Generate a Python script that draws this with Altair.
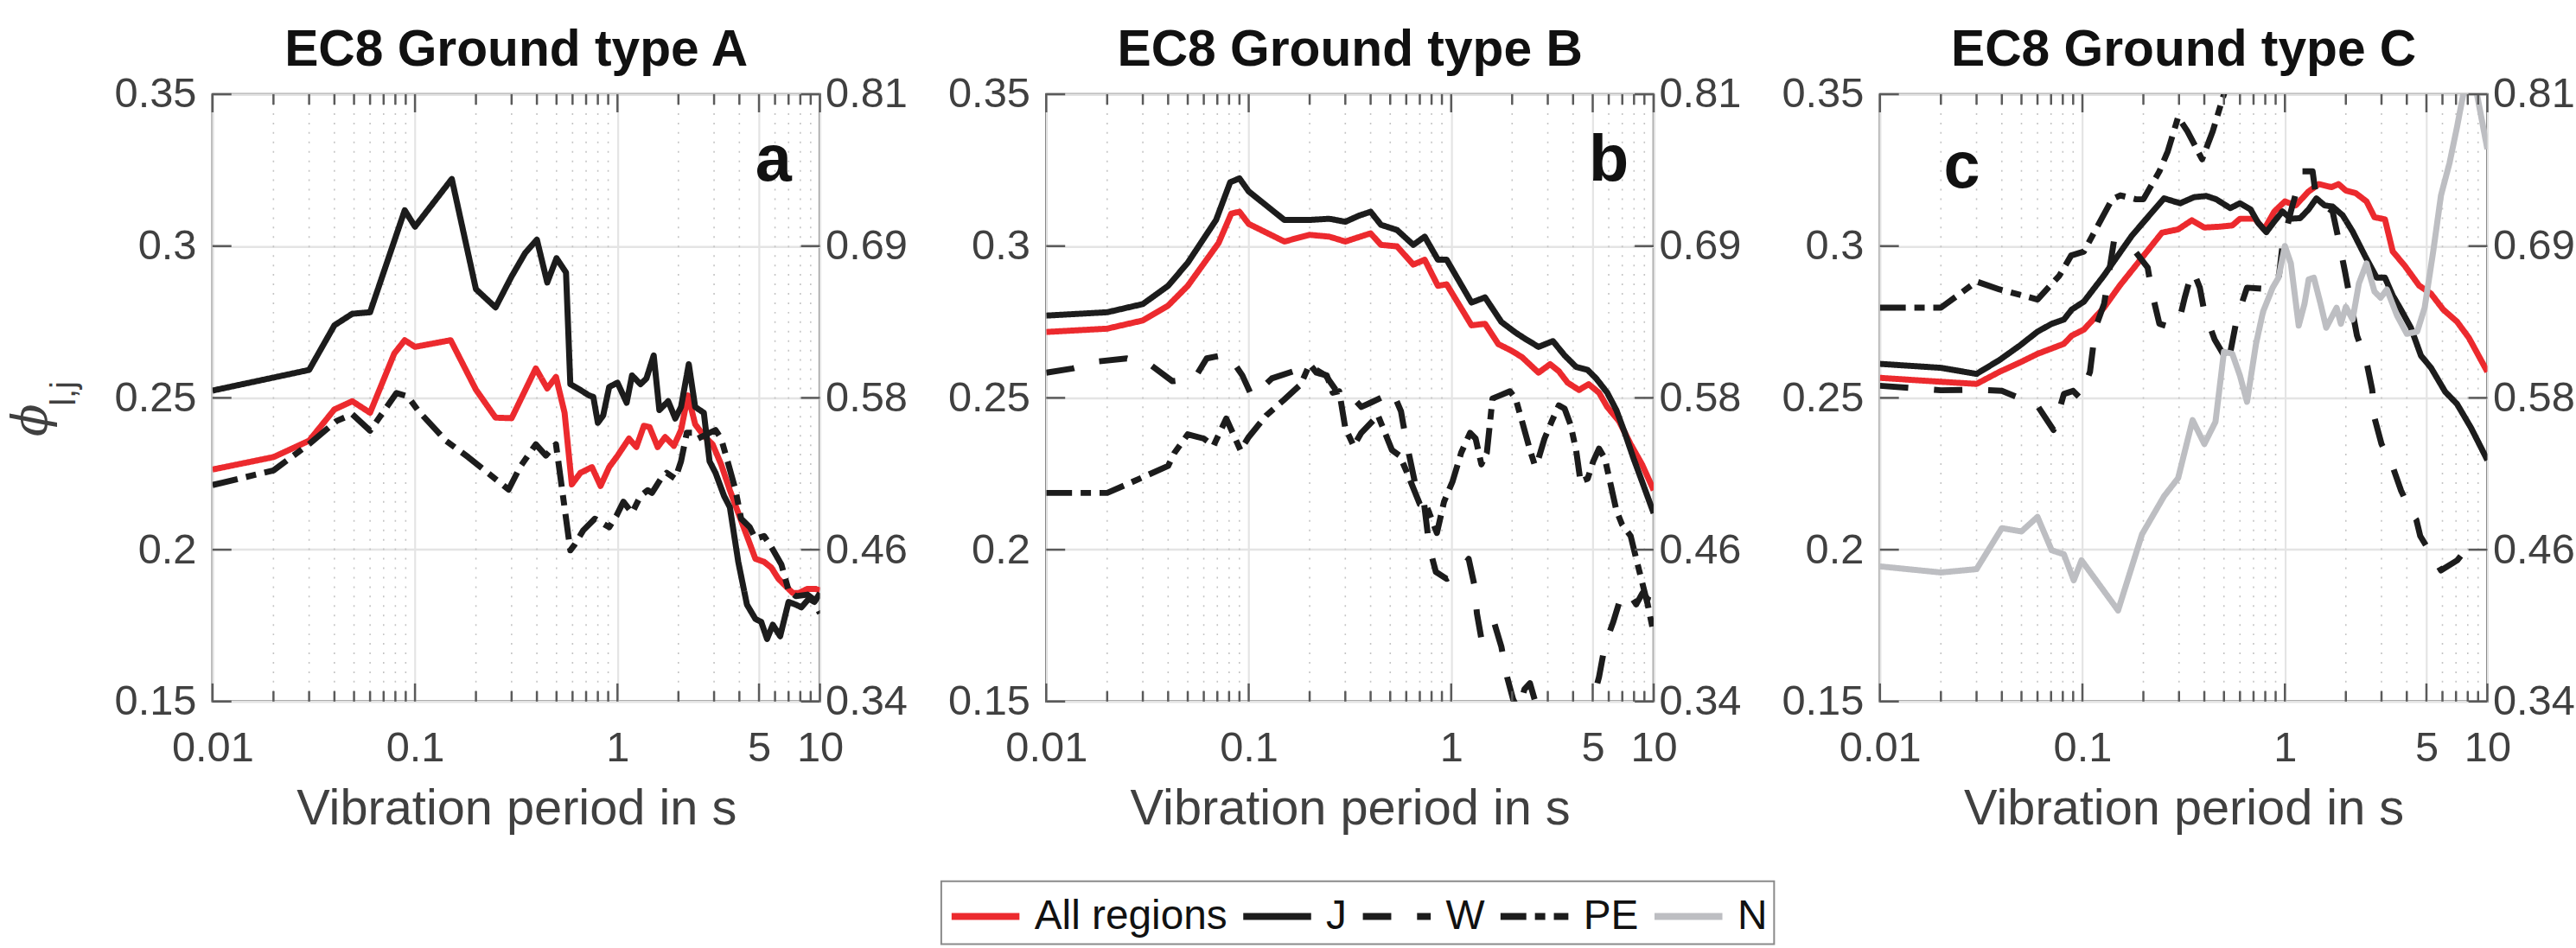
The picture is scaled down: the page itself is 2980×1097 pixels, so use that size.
import altair as alt
import pandas as pd

FONT = "Liberation Sans"
PW = 706
PH = 706
AXC = "#404040"
FRAME = "#5a5a5a"

SERIES = ["All regions", "J", "W", "PE", "N"]
SERIES_COLORS = ["#ec2a2e", "#1c1c1c", "#1c1c1c", "#1c1c1c", "#bdbec2"]
SERIES_DASH = [[1, 0], [1, 0], [33, 30], [30, 10, 12, 10], [1, 0]]

X_DOMAIN = [0.01, 10]
Y_DOMAIN = [0.15, 0.35]
X_TICKS = [0.01, 0.1, 1, 5, 10]
X_MINOR = [0.02, 0.03, 0.04, 0.05, 0.06, 0.07, 0.08, 0.09,
           0.2, 0.3, 0.4, 0.5, 0.6, 0.7, 0.8, 0.9,
           2, 3, 4, 6, 7, 8, 9]
Y_TICKS = [0.15, 0.2, 0.25, 0.3, 0.35]
RIGHT_LABELS = ["0.34", "0.46", "0.58", "0.69", "0.81"]
TITLES = ["EC8 Ground type A", "EC8 Ground type B", "EC8 Ground type C"]
LETTERS = ["a", "b", "c"]
X_TITLE = "Vibration period in s"

# ---------------- panel a (ground type A) ----------------
a_all = [(0.01, 0.2264), (0.02, 0.2305), (0.03, 0.2359), (0.04, 0.2462), (0.049, 0.2489),
         (0.06, 0.2451), (0.079, 0.2646), (0.089, 0.269), (0.1, 0.2668), (0.15, 0.269),
         (0.2, 0.2527), (0.25, 0.2435), (0.3, 0.2433), (0.395, 0.2597), (0.45, 0.2531),
         (0.497, 0.2569), (0.548, 0.2451), (0.595, 0.2215), (0.656, 0.2253), (0.748, 0.2272),
         (0.825, 0.221), (0.91, 0.2272), (1.0, 0.2309), (1.14, 0.2366), (1.24, 0.2338),
         (1.35, 0.2408), (1.44, 0.2404), (1.58, 0.2338), (1.72, 0.2371), (1.9, 0.2342),
         (2.06, 0.2394), (2.23, 0.2508), (2.42, 0.2413), (2.67, 0.2375), (2.95, 0.2347),
         (3.25, 0.2281), (3.59, 0.2196), (3.95, 0.2121), (4.36, 0.2045), (4.8, 0.197),
         (5.3, 0.196), (5.75, 0.1941), (6.24, 0.1904), (6.9, 0.1875), (7.35, 0.1857),
         (7.85, 0.1857), (8.67, 0.1871), (9.5, 0.1871), (10, 0.1866)]
a_j = [(0.01, 0.2524), (0.03, 0.2592), (0.04, 0.2739), (0.049, 0.2777), (0.06, 0.2782),
       (0.089, 0.3118), (0.1, 0.3064), (0.152, 0.3221), (0.2, 0.2858), (0.25, 0.2798),
       (0.3, 0.290), (0.35, 0.2977), (0.4, 0.3021), (0.45, 0.288), (0.5, 0.296),
       (0.557, 0.2913), (0.585, 0.2545), (0.656, 0.2526), (0.724, 0.2508), (0.76, 0.2503),
       (0.8, 0.2418), (0.85, 0.2442), (0.91, 0.2536), (1.0, 0.255), (1.11, 0.2484),
       (1.18, 0.2574), (1.3, 0.2545), (1.39, 0.2564), (1.51, 0.264), (1.61, 0.246),
       (1.78, 0.2489), (1.93, 0.2432), (2.06, 0.247), (2.25, 0.2611), (2.42, 0.247),
       (2.67, 0.2451), (2.85, 0.2291), (3.05, 0.2253), (3.36, 0.2177), (3.59, 0.214),
       (3.95, 0.196), (4.36, 0.1819), (4.8, 0.1772), (5.13, 0.1762), (5.48, 0.1706),
       (5.85, 0.1753), (6.36, 0.1715), (7.0, 0.1828), (7.6, 0.1819), (8.1, 0.181),
       (8.8, 0.1838), (9.4, 0.1828), (10, 0.1857)]
a_pe = [(0.01, 0.2213), (0.02, 0.2261), (0.03, 0.2348), (0.041, 0.2424), (0.049, 0.2446),
        (0.06, 0.2392), (0.072, 0.2467), (0.081, 0.2516), (0.092, 0.2505), (0.104, 0.2457),
        (0.142, 0.2359), (0.183, 0.2305), (0.29, 0.2198), (0.33, 0.2272), (0.395, 0.2347),
        (0.443, 0.231), (0.497, 0.2347), (0.585, 0.1998), (0.615, 0.2017), (0.678, 0.2064),
        (0.773, 0.2102), (0.91, 0.2074), (0.987, 0.2111), (1.07, 0.2158), (1.18, 0.2121),
        (1.3, 0.2177), (1.41, 0.2196), (1.48, 0.2187), (1.64, 0.2234), (1.75, 0.2253),
        (1.93, 0.2234), (2.06, 0.2291), (2.2, 0.2385), (2.34, 0.2385), (2.5, 0.2366),
        (2.85, 0.2385), (3.05, 0.2394), (3.25, 0.2366), (3.47, 0.23), (3.83, 0.2196),
        (4.08, 0.2102), (4.5, 0.2074), (4.8, 0.2036), (5.3, 0.2045), (5.66, 0.2017),
        (6.45, 0.1951), (7.0, 0.1866), (7.6, 0.1847), (8.67, 0.1852), (9.25, 0.1838),
        (10, 0.179)]

# ---------------- panel b (ground type B) ----------------
b_all = [(0.01, 0.2717), (0.02, 0.2728), (0.03, 0.2755), (0.04, 0.2804), (0.05, 0.2869),
         (0.071, 0.301), (0.082, 0.3107), (0.09, 0.3113), (0.1, 0.3073), (0.15, 0.3015),
         (0.2, 0.3037), (0.25, 0.3031), (0.3, 0.3015), (0.4, 0.3042), (0.45, 0.3004),
         (0.54, 0.2999), (0.65, 0.2939), (0.74, 0.2955), (0.86, 0.2869), (0.95, 0.2874),
         (1.26, 0.2739), (1.47, 0.2744), (1.71, 0.2677), (1.95, 0.2658), (2.23, 0.2635),
         (2.7, 0.2583), (3.08, 0.2611), (3.4, 0.2588), (3.76, 0.255), (4.28, 0.2526),
         (4.78, 0.2545), (5.37, 0.2517), (5.9, 0.247), (6.75, 0.2423), (7.7, 0.2347),
         (8.76, 0.2281), (10, 0.2196)]
b_j = [(0.01, 0.2771), (0.02, 0.2782), (0.03, 0.2809), (0.04, 0.2869), (0.05, 0.2945),
       (0.069, 0.3086), (0.081, 0.321), (0.09, 0.3223), (0.1, 0.318), (0.15, 0.3086),
       (0.2, 0.3086), (0.25, 0.309), (0.3, 0.308), (0.35, 0.310), (0.4, 0.3113),
       (0.45, 0.307), (0.54, 0.3053), (0.65, 0.3004), (0.74, 0.3031), (0.86, 0.2955),
       (0.95, 0.2955), (1.26, 0.2814), (1.47, 0.2831), (1.77, 0.275), (2.08, 0.2715),
       (2.3, 0.2696), (2.7, 0.2668), (3.18, 0.2687), (3.63, 0.264), (4.14, 0.2602),
       (4.72, 0.2592), (5.2, 0.2564), (5.9, 0.2517), (6.54, 0.246), (7.2, 0.2385),
       (7.96, 0.23), (8.76, 0.2225), (10, 0.212)]
b_w = [(0.01, 0.2583), (0.0135, 0.2597), (0.018, 0.262), (0.025, 0.263), (0.033, 0.2607),
       (0.042, 0.2555), (0.054, 0.2564), (0.062, 0.263), (0.079, 0.2644), (0.093, 0.2574),
       (0.104, 0.2503), (0.13, 0.2564), (0.2, 0.2605), (0.24, 0.2574), (0.275, 0.2517),
       (0.32, 0.2508), (0.36, 0.247), (0.4, 0.2484), (0.45, 0.25), (0.51, 0.2526),
       (0.565, 0.2456), (0.6, 0.2357), (0.665, 0.2215), (0.73, 0.2168), (0.78, 0.2008),
       (0.84, 0.1927), (0.95, 0.1904), (1.1, 0.1927), (1.22, 0.197), (1.3, 0.1885),
       (1.34, 0.179), (1.41, 0.1706), (1.55, 0.172), (1.63, 0.176), (1.77, 0.168),
       (1.89, 0.158), (2.02, 0.1508), (2.15, 0.147), (2.3, 0.154), (2.45, 0.156),
       (2.6, 0.150), (3.0, 0.14), (4.0, 0.135), (4.6, 0.14), (5.03, 0.1508),
       (5.37, 0.158), (5.75, 0.1687), (6.3, 0.176), (7.0, 0.186), (7.7, 0.1847),
       (8.2, 0.182), (8.8, 0.1857), (9.35, 0.1838), (10, 0.1927)]
b_pe = [(0.01, 0.2187), (0.02, 0.2187), (0.027, 0.2225), (0.04, 0.2276), (0.043, 0.2319),
        (0.05, 0.238), (0.06, 0.2366), (0.067, 0.2342), (0.0775, 0.2432), (0.091, 0.2328),
        (0.1, 0.2371), (0.122, 0.2442), (0.149, 0.2493), (0.181, 0.2545), (0.2, 0.2611),
        (0.216, 0.2583), (0.243, 0.2574), (0.26, 0.2517), (0.28, 0.2522), (0.3, 0.24),
        (0.33, 0.2342), (0.36, 0.2385), (0.435, 0.2442), (0.51, 0.2328), (0.556, 0.231),
        (0.6, 0.226), (0.7, 0.215), (0.76, 0.214), (0.85, 0.2055), (0.922, 0.2158),
        (1.016, 0.2225), (1.12, 0.2319), (1.24, 0.2385), (1.32, 0.2366), (1.41, 0.2281),
        (1.5, 0.2319), (1.6, 0.2498), (1.74, 0.2508), (1.95, 0.2522), (2.08, 0.2498),
        (2.26, 0.2413), (2.45, 0.2328), (2.58, 0.2281), (2.7, 0.23), (2.89, 0.2366),
        (3.14, 0.2423), (3.4, 0.2475), (3.63, 0.2465), (3.88, 0.2413), (4.14, 0.2328),
        (4.35, 0.2225), (4.72, 0.2234), (5.03, 0.2291), (5.37, 0.2333), (5.74, 0.23),
        (6.13, 0.2215), (6.54, 0.213), (6.98, 0.2083), (7.7, 0.2045), (8.2, 0.197),
        (8.76, 0.1894), (9.35, 0.1819), (10, 0.1724)]

# ---------------- panel c (ground type C) ----------------
c_all = [(0.01, 0.2566), (0.02, 0.2553), (0.03, 0.2546), (0.039, 0.2586), (0.05, 0.2619),
         (0.06, 0.2645), (0.081, 0.2678), (0.0886, 0.2705), (0.1017, 0.2725), (0.1277, 0.2797),
         (0.153, 0.287), (0.201, 0.2969), (0.247, 0.3044), (0.297, 0.3055), (0.347, 0.3085),
         (0.4, 0.3061), (0.48, 0.3064), (0.55, 0.3068), (0.6, 0.309), (0.71, 0.309),
         (0.79, 0.3055), (0.887, 0.3114), (1.0, 0.3147), (1.13, 0.3134), (1.31, 0.318),
         (1.47, 0.3204), (1.7, 0.3194), (1.84, 0.3204), (2.0, 0.3183), (2.24, 0.3174),
         (2.53, 0.3147), (2.77, 0.3095), (3.12, 0.3088), (3.41, 0.2982), (3.9, 0.2936),
         (4.6, 0.287), (5.27, 0.2843), (6.05, 0.2791), (7.08, 0.2751), (8.1, 0.2698),
         (10, 0.2586)]
c_j = [(0.01, 0.2612), (0.02, 0.2599), (0.03, 0.2579), (0.039, 0.2625), (0.049, 0.2672),
       (0.06, 0.2718), (0.0705, 0.2744), (0.081, 0.2758), (0.0886, 0.2791), (0.1017, 0.2817),
       (0.1277, 0.2903), (0.1758, 0.3035), (0.253, 0.3157), (0.304, 0.3141), (0.356, 0.3161),
       (0.409, 0.3165), (0.458, 0.3154), (0.537, 0.3125), (0.6, 0.3141), (0.676, 0.3121),
       (0.74, 0.3075), (0.81, 0.3046), (0.887, 0.3081), (0.972, 0.3114), (1.07, 0.309),
       (1.19, 0.3092), (1.31, 0.3121), (1.43, 0.3157), (1.57, 0.3134), (1.72, 0.313),
       (1.93, 0.3101), (2.16, 0.3048), (2.48, 0.2969), (2.84, 0.2896), (3.12, 0.2896),
       (3.41, 0.2837), (3.74, 0.2791), (4.19, 0.2731), (4.7, 0.2639), (5.27, 0.2599),
       (6.19, 0.252), (7.08, 0.248), (8.31, 0.2401), (10, 0.2295)]
c_w = [(0.01, 0.254), (0.02, 0.2525), (0.03, 0.2527), (0.04, 0.2523), (0.05, 0.2497),
       (0.06, 0.2474), (0.072, 0.2394), (0.081, 0.2513), (0.09, 0.2523), (0.0973, 0.25),
       (0.109, 0.2586), (0.116, 0.2731), (0.128, 0.281), (0.143, 0.3015), (0.176, 0.2995),
       (0.21, 0.2929), (0.22, 0.285), (0.24, 0.2744), (0.278, 0.2731), (0.303, 0.2764),
       (0.32, 0.283), (0.35, 0.2923), (0.38, 0.2863), (0.4, 0.2784), (0.45, 0.2692),
       (0.5, 0.264), (0.52, 0.26), (0.58, 0.2764), (0.65, 0.2863), (0.87, 0.2857),
       (0.93, 0.289), (0.97, 0.2995), (1.07, 0.3114), (1.14, 0.318), (1.22, 0.3246),
       (1.37, 0.3246), (1.43, 0.3154), (1.72, 0.3114), (1.84, 0.3022), (1.98, 0.2916),
       (2.27, 0.2705), (2.53, 0.2619), (2.7, 0.2526), (2.77, 0.2434), (3.0, 0.2348),
       (3.4, 0.2275), (3.74, 0.2196), (4.2, 0.2124), (4.46, 0.2098), (4.66, 0.2045),
       (5.37, 0.1978), (5.9, 0.1932), (7.1, 0.1965), (8.5, 0.2031)]
c_pe = [(0.01, 0.2797), (0.02, 0.2797), (0.03, 0.2883), (0.039, 0.2857), (0.051, 0.2837),
        (0.06, 0.2824), (0.077, 0.2903), (0.088, 0.2969), (0.1017, 0.2982), (0.14, 0.3154),
        (0.154, 0.3167), (0.184, 0.3154), (0.2, 0.3154), (0.24, 0.3246), (0.264, 0.3312),
        (0.297, 0.3425), (0.33, 0.3378), (0.39, 0.3286), (0.44, 0.3378), (0.5, 0.35),
        (0.56, 0.362)]
c_n = [(0.01, 0.1945), (0.02, 0.1925), (0.03, 0.1936), (0.04, 0.2071), (0.05, 0.206),
       (0.06, 0.2108), (0.0705, 0.1998), (0.081, 0.1985), (0.0906, 0.1899), (0.099, 0.1965),
       (0.15, 0.18), (0.197, 0.2051), (0.253, 0.2176), (0.297, 0.2236), (0.35, 0.2427),
       (0.4, 0.2348), (0.454, 0.2421), (0.5, 0.2652), (0.55, 0.2645), (0.6, 0.2573),
       (0.65, 0.2487), (0.72, 0.2678), (0.78, 0.2784), (0.87, 0.2863), (0.93, 0.2896),
       (1.0, 0.3), (1.07, 0.2943), (1.17, 0.2738), (1.25, 0.281), (1.31, 0.289),
       (1.39, 0.2896), (1.5, 0.281), (1.6, 0.2731), (1.8, 0.2797), (1.89, 0.2744),
       (2.0, 0.28), (2.16, 0.2758), (2.32, 0.2877), (2.53, 0.2943), (2.77, 0.285),
       (2.97, 0.283), (3.19, 0.2857), (3.58, 0.2771), (4.0, 0.2711), (4.5, 0.2718),
       (4.9, 0.2797), (5.4, 0.2982), (5.9, 0.3167), (6.5, 0.3273), (7.08, 0.3392),
       (7.6, 0.35), (8.3, 0.356), (8.9, 0.3497), (10, 0.3319)]

PANELS = [
    {"All regions": a_all, "J": a_j, "PE": a_pe},
    {"All regions": b_all, "J": b_j, "W": b_w, "PE": b_pe},
    {"All regions": c_all, "J": c_j, "W": c_w, "PE": c_pe, "N": c_n},
]

PAD_L = 7
PAD_T = 25
# legend position is relative to the top-left corner of panel a's plot area
LEG_X = 1092 - 245
LEG_Y = 1022 - 107
SYM = 58            # layout size of a legend symbol
SYM_STRETCH = 1.36  # drawn line is SYM * SYM_STRETCH long

xs = alt.Scale(type="log", domain=X_DOMAIN, nice=False)
ys = alt.Scale(domain=Y_DOMAIN, nice=False, zero=False)


def right_label_expr():
    parts = []
    for v, lab in zip(Y_TICKS[:-1], RIGHT_LABELS[:-1]):
        parts.append(f"datum.value < {v + 0.02} ? '{lab}' : ")
    return "".join(parts) + f"'{RIGHT_LABELS[-1]}'"


extra = SYM * (SYM_STRETCH - 1) / 2
legend = alt.Legend(
    orient="none", legendX=LEG_X, legendY=LEG_Y, direction="horizontal", columns=5,
    title=None, symbolType=f"M-{SYM_STRETCH},0L{SYM_STRETCH},0", symbolSize=SYM * SYM,
    symbolStrokeWidth=8, symbolOffset=extra, labelFont=FONT, labelFontSize=48,
    labelColor="#111111", labelLimit=600, labelOffset=2 * extra + 3, columnPadding=2,
    padding=8, strokeColor="#8a8a8a", fillColor="#ffffff")


def panel(i):
    rows = []
    for s in SERIES:
        for k, (t, v) in enumerate(PANELS[i].get(s, [])):
            rows.append({"series": s, "T": t, "v": v, "o": k})
    df = pd.DataFrame(rows)

    minor_df = pd.DataFrame({"T": X_MINOR})
    major_df = pd.DataFrame({"T": X_TICKS})
    yt_df = pd.DataFrame({"v": Y_TICKS})

    minor_grid = alt.Chart(minor_df).mark_rule(
        color="#c4c4c4", strokeWidth=1.6, strokeDash=[2, 9]
    ).encode(x=alt.X("T:Q", scale=xs, axis=None))

    lines = alt.Chart(df).mark_line(
        clip=True, strokeWidth=7, strokeCap="butt", strokeJoin="round"
    ).encode(
        x=alt.X("T:Q", scale=xs, axis=alt.Axis(
            orient="bottom", values=X_TICKS, format="~g", labelFont=FONT,
            labelFontSize=49, labelColor=AXC, labelPadding=30, labelFlush=False,
            labelOverlap=False, ticks=False, domain=False, grid=True,
            gridColor="#e4e4e4", gridWidth=2.2, title=X_TITLE, titleFont=FONT,
            titleFontSize=58, titleFontWeight="normal", titleColor=AXC,
            titleY=96, titleBaseline="top")),
        y=alt.Y("v:Q", scale=ys, axis=alt.Axis(
            orient="left", values=Y_TICKS, format="~g", labelFont=FONT,
            labelFontSize=49, labelColor=AXC, labelPadding=19, labelOverlap=False,
            ticks=False, domain=False, grid=True, gridColor="#e4e4e4",
            gridWidth=2.5, title=None)),
        color=alt.Color("series:N", scale=alt.Scale(domain=SERIES, range=SERIES_COLORS),
                        legend=legend),
        strokeDash=alt.StrokeDash("series:N", scale=alt.Scale(domain=SERIES, range=SERIES_DASH),
                                  legend=legend),
        order=alt.Order("o:Q"),
    )

    right_axis = alt.Chart(yt_df).mark_point(opacity=0).encode(
        y=alt.Y("v:Q", scale=ys, axis=alt.Axis(
            orient="right", values=Y_TICKS, labelExpr=right_label_expr(),
            labelFont=FONT, labelFontSize=49, labelColor=AXC, labelPadding=6,
            labelOverlap=False, ticks=False, domain=False, grid=False, title=None)))

    def xtick(data, y0, y1):
        return alt.Chart(data).mark_rule(color=FRAME, strokeWidth=2.5).encode(
            x=alt.X("T:Q", scale=xs, axis=None), y=alt.value(y0), y2=alt.value(y1))

    def ytick(x0, x1):
        return alt.Chart(yt_df).mark_rule(color=FRAME, strokeWidth=2.5).encode(
            y=alt.Y("v:Q", scale=ys, axis=None), x=alt.value(x0), x2=alt.value(x1))

    ticks = [
        xtick(major_df, PH, PH - 21), xtick(major_df, 0, 21),
        xtick(minor_df, PH, PH - 12), xtick(minor_df, 0, 12),
        ytick(0, 22), ytick(PW, PW - 22),
    ]

    lx = [673, 677, 74][i]
    ly = [100, 100, 108][i]
    al = ["right", "right", "left"][i]
    letter = alt.Chart(pd.DataFrame({"t": [LETTERS[i]]})).mark_text(
        font=FONT, fontSize=76, fontWeight="bold", align=al, baseline="alphabetic",
        color="#111111").encode(text="t:N", x=alt.value(lx), y=alt.value(ly))

    layers = [minor_grid, lines] + ticks + [right_axis, letter]

    if i == 0:
        phi = alt.Chart(pd.DataFrame({"t": ["ϕ"]})).mark_text(
            font="DejaVu Serif", fontSize=56, fontStyle="italic", angle=270,
            align="center", baseline="alphabetic", color=AXC
        ).encode(text="t:N", x=alt.value(-193), y=alt.value(379))
        sub = alt.Chart(pd.DataFrame({"t": ["l,j"]})).mark_text(
            font=FONT, fontSize=40, angle=270, align="center", baseline="alphabetic",
            color=AXC
        ).encode(text="t:N", x=alt.value(-160), y=alt.value(348))
        layers += [phi, sub]

    return alt.layer(*layers).resolve_axis(x="independent", y="independent").properties(
        width=PW, height=PH,
        title=alt.TitleParams(TITLES[i], font=FONT, fontSize=59, fontWeight="bold",
                              color="#111111", offset=-3, frame="group", anchor="middle"))


chart = alt.hconcat(panel(0), panel(1), panel(2), spacing=44).properties(
    padding={"left": PAD_L, "top": PAD_T, "right": 0, "bottom": 0},
    background="white",
).configure_view(stroke=FRAME, strokeWidth=2.5).configure_legend(strokeWidth=2)

chart.save("out.html", embed_options={"renderer": "svg", "actions": False})
